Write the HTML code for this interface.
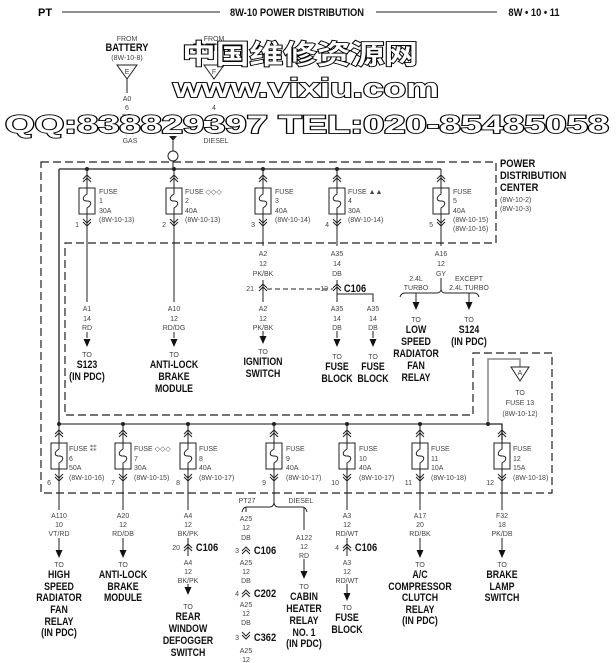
<!DOCTYPE html>
<html><head><meta charset="utf-8"><style>
html,body{margin:0;padding:0;background:#fff}
svg{display:block}
.s{font-family:"Liberation Sans",sans-serif;font-size:7px;fill:#444}
.b{font-family:"Liberation Sans",sans-serif;font-weight:bold;font-size:11px;fill:#111;text-anchor:middle}
.m{text-anchor:middle}
.e{text-anchor:end}
.wm{font-family:"Liberation Sans","Noto Sans CJK SC",sans-serif;font-weight:bold;fill:#fff;stroke:#000;stroke-width:1.8;paint-order:stroke}
</style></head><body>
<svg width="616" height="663" viewBox="0 0 616 663" xmlns="http://www.w3.org/2000/svg">
<defs>
<g id="fz" fill="none" stroke="#222" stroke-width="1">
<polyline points="-4,-9 0,-13 4,-9"/><polyline points="-4,-6 0,-10 4,-6"/>
<rect x="-8" y="0" width="16" height="26" fill="#fff"/>
<path d="M0,0 V6 C-5,9 -5,13 0,13 C5,13 5,17 0,20 V26"/>
<polyline points="-4,31 0,35 4,31"/><polyline points="-4,34 0,38 4,34"/>
</g>
<g id="cu" fill="none" stroke="#222" stroke-width="1"><polyline points="-4,1 0,-3 4,1"/><polyline points="-4,4 0,0 4,4"/></g>
<g id="cd" fill="none" stroke="#222" stroke-width="1"><polyline points="-4,-4 0,0 4,-4"/><polyline points="-4,-1 0,3 4,-1"/></g>
<polygon id="ar" points="-3.5,-8 3.5,-8 0,0" fill="#111"/>
</defs>

<!-- header -->
<text x="38" y="16" font-family="Liberation Sans" font-weight="bold" font-size="11">PT</text>
<line x1="62" y1="12" x2="220" y2="12" stroke="#222"/>
<g transform="translate(297,0) scale(0.85,1)"><text x="0" y="16" class="b">8W-10 POWER DISTRIBUTION</text></g>
<line x1="376" y1="12" x2="497" y2="12" stroke="#222"/>
<g transform="translate(534,0) scale(0.85,1)"><text x="0" y="16" class="b">8W • 10 • 11</text></g>

<!-- battery feeds -->
<text x="127" y="41" class="s m">FROM</text>
<g transform="translate(127,0) scale(0.85,1)"><text x="0" y="51" class="b" font-size="8.5">BATTERY</text></g>
<text x="127" y="60" class="s m">(8W-10-8)</text>
<polygon points="117,65 137,65 127,79" fill="none" stroke="#222"/>
<text x="127" y="74" class="s m">E</text>
<line x1="127" y1="79" x2="127" y2="93" stroke="#222"/>
<text x="127" y="101" class="s m">A0</text><text x="127" y="110" class="s m">6</text><text x="127" y="119" class="s m">RD</text>
<text x="130" y="143" class="s m">GAS</text>
<text x="214" y="41" class="s m">FROM</text>
<g transform="translate(214,0) scale(0.85,1)"><text x="0" y="51" class="b" font-size="8.5">BATTERY</text></g>
<polygon points="204,65 224,65 214,79" fill="none" stroke="#222"/>
<text x="214" y="74" class="s m">F</text>
<text x="214" y="110" class="s m">4</text>
<text x="216" y="143" class="s m">DIESEL</text>
<polygon points="169,136 177,136 173,141" fill="#222"/>
<line x1="173" y1="141" x2="173" y2="151" stroke="#222"/>
<circle cx="173" cy="156" r="5" fill="#fff" stroke="#222"/>
<line x1="173" y1="161" x2="173" y2="169" stroke="#222"/>

<!-- dashed PDC outline -->
<path d="M41,162 H496 V243 H65 V415 H473 V353 H552 V493 H41 Z" fill="none" stroke="#222" stroke-width="1.2" stroke-dasharray="8,4"/>
<g transform="translate(500,0) scale(0.85,1)">
<text x="0" y="167" class="b" font-size="10" style="text-anchor:start">POWER</text>
<text x="0" y="179" class="b" font-size="10" style="text-anchor:start">DISTRIBUTION</text>
<text x="0" y="191" class="b" font-size="10" style="text-anchor:start">CENTER</text>
</g>
<text x="500" y="202" class="s">(8W-10-2)</text>
<text x="500" y="211" class="s">(8W-10-3)</text>

<!-- buses -->
<line x1="59" y1="169" x2="441" y2="169" stroke="#222" stroke-width="1.3"/>
<line x1="59" y1="169" x2="59" y2="424" stroke="#222" stroke-width="1.3"/>
<line x1="59" y1="424" x2="488" y2="424" stroke="#888" stroke-width="2"/>
<polyline points="488,424 502,424 502,440" fill="none" stroke="#222" stroke-width="1.3"/>
<polyline points="488,424 488,359 520,359 520,367" fill="none" stroke="#888" stroke-width="1.5"/>
<g fill="#222"><circle cx="87" cy="169" r="2"/><circle cx="174" cy="169" r="2"/><circle cx="263" cy="169" r="2"/><circle cx="337" cy="169" r="2"/>
<circle cx="59" cy="424" r="2"/><circle cx="123" cy="424" r="2"/><circle cx="188" cy="424" r="2"/><circle cx="274" cy="424" r="2"/><circle cx="347" cy="424" r="2"/><circle cx="420" cy="424" r="2"/><circle cx="488" cy="424" r="2"/></g>
<polygon points="511,367 529,367 520,381" fill="#fff" stroke="#222"/>
<text x="520" y="375" class="s m">A</text>
<text x="520" y="395" class="s m">TO</text><text x="520" y="405" class="s m">FUSE 13</text><text x="520" y="416" class="s m">(8W-10-12)</text>

<!-- top wires -->
<g stroke="#222" stroke-width="1">
<line x1="87" y1="169" x2="87" y2="302"/><line x1="87" y1="332" x2="87" y2="338"/>
<line x1="174" y1="169" x2="174" y2="302"/><line x1="174" y1="332" x2="174" y2="338"/>
<line x1="263" y1="169" x2="263" y2="246"/><line x1="263" y1="280" x2="263" y2="302"/><line x1="263" y1="331" x2="263" y2="336"/>
<line x1="337" y1="169" x2="337" y2="246"/><line x1="337" y1="280" x2="337" y2="302"/><line x1="337" y1="331" x2="337" y2="338"/>
<polyline points="337,294 373,294 373,302" fill="none"/><line x1="373" y1="331" x2="373" y2="338"/>
<line x1="441" y1="169" x2="441" y2="246"/><line x1="441" y1="278" x2="441" y2="290"/>
<line x1="267" y1="289" x2="333" y2="289" stroke-dasharray="5,3"/>
<path d="M400,297 Q401,293 405,293 H437 Q440,293 441,290 Q442,293 445,293 H474 Q478,293 479,297" fill="none"/>
<line x1="416" y1="293" x2="416" y2="302"/><line x1="469" y1="293" x2="469" y2="302"/>
</g>
<use href="#fz" x="87" y="188"/><use href="#fz" x="174" y="188"/><use href="#fz" x="263" y="188"/><use href="#fz" x="337" y="188"/><use href="#fz" x="441" y="188"/>
<g class="s">
<text x="99" y="194">FUSE</text><text x="99" y="203">1</text><text x="99" y="213">30A</text><text x="99" y="222">(8W-10-13)</text><text x="79" y="227" class="e">1</text>
<text x="185" y="194">FUSE ◇◇◇</text><text x="185" y="203">2</text><text x="185" y="213">40A</text><text x="185" y="222">(8W-10-13)</text><text x="166" y="227" class="e">2</text>
<text x="275" y="194">FUSE</text><text x="275" y="203">3</text><text x="275" y="213">40A</text><text x="275" y="222">(8W-10-14)</text><text x="255" y="227" class="e">3</text>
<text x="348" y="194">FUSE ▲▲</text><text x="348" y="203">4</text><text x="348" y="213">30A</text><text x="348" y="222">(8W-10-14)</text><text x="329" y="227" class="e">4</text>
<text x="453" y="194">FUSE</text><text x="453" y="203">5</text><text x="453" y="213">40A</text><text x="453" y="222">(8W-10-15)</text><text x="453" y="231">(8W-10-16)</text><text x="433" y="227" class="e">5</text>
</g>
<g class="s m">
<text x="87" y="311">A1</text><text x="87" y="321">14</text><text x="87" y="330">RD</text>
<text x="174" y="311">A10</text><text x="174" y="321">12</text><text x="174" y="330">RD/DG</text>
<text x="263" y="256">A2</text><text x="263" y="266">12</text><text x="263" y="276">PK/BK</text>
<text x="263" y="311">A2</text><text x="263" y="321">12</text><text x="263" y="330">PK/BK</text>
<text x="337" y="256">A35</text><text x="337" y="266">14</text><text x="337" y="276">DB</text>
<text x="337" y="311">A35</text><text x="337" y="321">14</text><text x="337" y="330">DB</text>
<text x="373" y="311">A35</text><text x="373" y="321">14</text><text x="373" y="330">DB</text>
<text x="441" y="256">A16</text><text x="441" y="266">12</text><text x="441" y="276">GY</text>
<text x="416" y="281">2.4L</text><text x="416" y="290">TURBO</text>
<text x="469" y="281">EXCEPT</text><text x="469" y="290">2.4L TURBO</text>
<text x="87" y="357">TO</text><text x="174" y="357">TO</text><text x="263" y="354">TO</text><text x="337" y="359">TO</text><text x="373" y="359">TO</text><text x="416" y="322">TO</text><text x="469" y="322">TO</text>
</g>
<text x="254" y="291" class="s e">21</text><use href="#cu" x="263" y="287"/>
<text x="328" y="291" class="s e">12</text><use href="#cu" x="337" y="287"/>
<g transform="translate(355,0) scale(0.85,1)"><text x="0" y="292" class="b" font-size="10.5">C106</text></g>
<use href="#ar" x="87" y="347"/><use href="#ar" x="174" y="347"/><use href="#ar" x="263" y="344"/><use href="#ar" x="337" y="347"/><use href="#ar" x="373" y="347"/><use href="#ar" x="416" y="310"/><use href="#ar" x="469" y="310"/>
<g transform="translate(87,0) scale(0.8,1)"><text x="0" y="368" class="b">S123</text><text x="0" y="380" class="b">(IN PDC)</text></g>
<g transform="translate(174,0) scale(0.8,1)"><text x="0" y="368" class="b">ANTI-LOCK</text><text x="0" y="380" class="b">BRAKE</text><text x="0" y="392" class="b">MODULE</text></g>
<g transform="translate(263,0) scale(0.8,1)"><text x="0" y="365" class="b">IGNITION</text><text x="0" y="377" class="b">SWITCH</text></g>
<g transform="translate(337,0) scale(0.8,1)"><text x="0" y="370" class="b">FUSE</text><text x="0" y="382" class="b">BLOCK</text></g>
<g transform="translate(373,0) scale(0.8,1)"><text x="0" y="370" class="b">FUSE</text><text x="0" y="382" class="b">BLOCK</text></g>
<g transform="translate(416,0) scale(0.8,1)"><text x="0" y="333" class="b">LOW</text><text x="0" y="345" class="b">SPEED</text><text x="0" y="357" class="b">RADIATOR</text><text x="0" y="369" class="b">FAN</text><text x="0" y="381" class="b">RELAY</text></g>
<g transform="translate(469,0) scale(0.8,1)"><text x="0" y="333" class="b">S124</text><text x="0" y="345" class="b">(IN PDC)</text></g>

<!-- bottom wires -->
<g stroke="#222" stroke-width="1">
<line x1="59" y1="424" x2="59" y2="510"/><line x1="59" y1="538" x2="59" y2="550"/>
<line x1="123" y1="424" x2="123" y2="510"/><line x1="123" y1="538" x2="123" y2="550"/>
<line x1="188" y1="424" x2="188" y2="510"/><line x1="188" y1="538" x2="188" y2="556"/><line x1="188" y1="584" x2="188" y2="587"/>
<line x1="274" y1="424" x2="274" y2="503"/>
<path d="M242,512 Q243,507 247,507 H270 Q273,507 274,503 Q275,507 278,507 H302 Q306,507 307,512" fill="none"/>
<line x1="246" y1="507" x2="246" y2="512"/>
<line x1="304" y1="507" x2="304" y2="530"/><line x1="304" y1="559" x2="304" y2="572"/>
<line x1="347" y1="424" x2="347" y2="510"/><line x1="347" y1="538" x2="347" y2="556"/><line x1="347" y1="584" x2="347" y2="594"/>
<line x1="420" y1="424" x2="420" y2="510"/><line x1="420" y1="538" x2="420" y2="550"/>
<line x1="502" y1="424" x2="502" y2="510"/><line x1="502" y1="538" x2="502" y2="550"/>
</g>
<use href="#fz" x="59" y="443"/><use href="#fz" x="123" y="443"/><use href="#fz" x="188" y="443"/><use href="#fz" x="274" y="443"/><use href="#fz" x="347" y="443"/><use href="#fz" x="420" y="443"/><use href="#fz" x="502" y="443"/>
<g class="s">
<text x="69" y="451">FUSE ⁑⁑</text><text x="69" y="461">6</text><text x="69" y="470">50A</text><text x="69" y="480">(8W-10-16)</text><text x="51" y="485" class="e">6</text>
<text x="134" y="451">FUSE ◇◇◇</text><text x="134" y="461">7</text><text x="134" y="470">30A</text><text x="134" y="480">(8W-10-15)</text><text x="115" y="485" class="e">7</text>
<text x="199" y="451">FUSE</text><text x="199" y="461">8</text><text x="199" y="470">40A</text><text x="199" y="480">(8W-10-17)</text><text x="180" y="485" class="e">8</text>
<text x="286" y="451">FUSE</text><text x="286" y="461">9</text><text x="286" y="470">40A</text><text x="286" y="480">(8W-10-17)</text><text x="266" y="485" class="e">9</text>
<text x="359" y="451">FUSE</text><text x="359" y="461">10</text><text x="359" y="470">40A</text><text x="359" y="480">(8W-10-17)</text><text x="339" y="485" class="e">10</text>
<text x="431" y="451">FUSE</text><text x="431" y="461">11</text><text x="431" y="470">10A</text><text x="431" y="480">(8W-10-18)</text><text x="412" y="485" class="e">11</text>
<text x="513" y="451">FUSE</text><text x="513" y="461">12</text><text x="513" y="470">15A</text><text x="513" y="480">(8W-10-18)</text><text x="494" y="485" class="e">12</text>
</g>
<g class="s m">
<text x="59" y="518">A110</text><text x="59" y="527">10</text><text x="59" y="536">VT/RD</text>
<text x="123" y="518">A20</text><text x="123" y="527">12</text><text x="123" y="536">RD/DB</text>
<text x="188" y="518">A4</text><text x="188" y="527">12</text><text x="188" y="536">BK/PK</text>
<text x="188" y="565">A4</text><text x="188" y="574">12</text><text x="188" y="583">BK/PK</text>
<text x="247" y="503">PT27</text><text x="301" y="503">DIESEL</text>
<text x="246" y="521">A25</text><text x="246" y="530">12</text><text x="246" y="540">DB</text>
<text x="246" y="565">A25</text><text x="246" y="574">12</text><text x="246" y="583">DB</text>
<text x="246" y="607">A25</text><text x="246" y="616">12</text><text x="246" y="625">DB</text>
<text x="246" y="653">A25</text><text x="246" y="662">12</text>
<text x="304" y="540">A122</text><text x="304" y="549">12</text><text x="304" y="558">RD</text>
<text x="347" y="518">A3</text><text x="347" y="527">12</text><text x="347" y="536">RD/WT</text>
<text x="347" y="565">A3</text><text x="347" y="574">12</text><text x="347" y="583">RD/WT</text>
<text x="420" y="518">A17</text><text x="420" y="527">20</text><text x="420" y="536">RD/BK</text>
<text x="502" y="518">F32</text><text x="502" y="527">18</text><text x="502" y="536">PK/DB</text>
<text x="59" y="567">TO</text><text x="123" y="567">TO</text><text x="188" y="609">TO</text><text x="304" y="589">TO</text><text x="347" y="610">TO</text><text x="420" y="567">TO</text><text x="502" y="567">TO</text>
</g>
<text x="180" y="550" class="s e">20</text><use href="#cu" x="188" y="547"/>
<text x="239" y="553" class="s e">3</text><use href="#cu" x="246" y="550"/>
<text x="239" y="596" class="s e">4</text><use href="#cu" x="246" y="593"/>
<text x="239" y="640" class="s e">3</text><use href="#cd" x="246" y="636"/>
<text x="339" y="550" class="s e">4</text><use href="#cu" x="347" y="547"/>
<g transform="translate(207,0) scale(0.85,1)"><text x="0" y="551" class="b" font-size="10.5">C106</text></g>
<g transform="translate(265,0) scale(0.85,1)"><text x="0" y="554" class="b" font-size="10.5">C106</text><text x="0" y="597" class="b" font-size="10.5">C202</text><text x="0" y="641" class="b" font-size="10.5">C362</text></g>
<g transform="translate(366,0) scale(0.85,1)"><text x="0" y="551" class="b" font-size="10.5">C106</text></g>
<use href="#ar" x="59" y="558"/><use href="#ar" x="123" y="558"/><use href="#ar" x="188" y="595"/><use href="#ar" x="304" y="579"/><use href="#ar" x="347" y="601"/><use href="#ar" x="420" y="558"/><use href="#ar" x="502" y="558"/>
<g transform="translate(59,0) scale(0.8,1)"><text x="0" y="578" class="b">HIGH</text><text x="0" y="590" class="b">SPEED</text><text x="0" y="601" class="b">RADIATOR</text><text x="0" y="613" class="b">FAN</text><text x="0" y="625" class="b">RELAY</text><text x="0" y="636" class="b">(IN PDC)</text></g>
<g transform="translate(123,0) scale(0.8,1)"><text x="0" y="578" class="b">ANTI-LOCK</text><text x="0" y="590" class="b">BRAKE</text><text x="0" y="601" class="b">MODULE</text></g>
<g transform="translate(188,0) scale(0.8,1)"><text x="0" y="620" class="b">REAR</text><text x="0" y="632" class="b">WINDOW</text><text x="0" y="644" class="b">DEFOGGER</text><text x="0" y="656" class="b">SWITCH</text></g>
<g transform="translate(304,0) scale(0.8,1)"><text x="0" y="600" class="b">CABIN</text><text x="0" y="612" class="b">HEATER</text><text x="0" y="624" class="b">RELAY</text><text x="0" y="636" class="b">NO. 1</text><text x="0" y="647" class="b">(IN PDC)</text></g>
<g transform="translate(347,0) scale(0.8,1)"><text x="0" y="621" class="b">FUSE</text><text x="0" y="633" class="b">BLOCK</text></g>
<g transform="translate(420,0) scale(0.8,1)"><text x="0" y="578" class="b">A/C</text><text x="0" y="590" class="b">COMPRESSOR</text><text x="0" y="601" class="b">CLUTCH</text><text x="0" y="613" class="b">RELAY</text><text x="0" y="624" class="b">(IN PDC)</text></g>
<g transform="translate(502,0) scale(0.8,1)"><text x="0" y="578" class="b">BRAKE</text><text x="0" y="590" class="b">LAMP</text><text x="0" y="601" class="b">SWITCH</text></g>

<!-- watermark -->
<text x="182" y="64" class="wm" font-size="27" textLength="236" lengthAdjust="spacingAndGlyphs">中国维修资源网</text>
<text x="173" y="97" class="wm" font-size="27" textLength="266" lengthAdjust="spacingAndGlyphs">www.vixiu.com</text>
<text x="5" y="133" class="wm" font-size="25" textLength="604" lengthAdjust="spacingAndGlyphs">QQ:838829397 TEL:020-85485058</text>
</svg>
</body></html>
